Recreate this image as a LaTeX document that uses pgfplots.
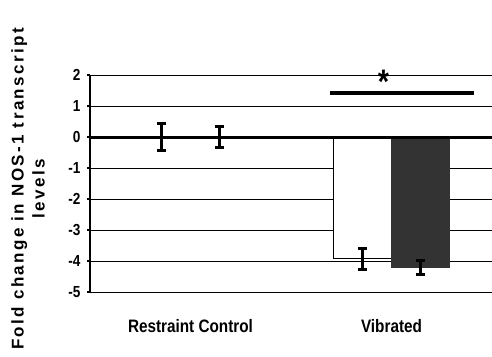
\documentclass[border=0pt]{standalone}
\usepackage{pgfplots}
\pgfplotsset{compat=1.18}
\usepackage{fontspec}
\setmainfont{Liberation Sans}
\newfontfamily\nb{Liberation Sans Bold}[FakeStretch=0.85]
\newfontfamily\ylab{Liberation Sans Bold}[LetterSpace=14]
\definecolor{darkbar}{HTML}{333333}
\begin{document}
\begin{tikzpicture}
\path[use as bounding box] (-90pt,-64pt) rectangle (402pt,292pt);
\begin{axis}[
  at={(0,0)}, anchor=south west,
  scale only axis, width=402pt, height=217pt,
  xmin=0, xmax=4, ymin=-5, ymax=2,
  ybar=0pt, bar width=58pt,
  axis x line=none,
  axis y line*=left,
  y axis line style={line width=2.5pt, -},
  ytick={-5,-4,-3,-2,-1,0,1,2},
  ymajorgrids, grid style={black, line width=0.8pt},
  tick align=outside, major tick length=3pt,
  ytick style={line width=1.5pt, black},
  yticklabel style={font=\nb\fontsize{16}{18}\selectfont, xshift=-3pt},
  /pgf/number format/assume math mode=true,
  clip=false,
]
\addplot[fill=white, draw=black, line width=0.8pt,
  error bars/.cd, y dir=both, y explicit,
  error bar style={line width=2.2pt, black},
  error mark options={rotate=90, mark size=4.5pt, line width=3pt, black}]
  coordinates {(1,0) +- (0,0.42) (3,-3.93) +- (0,0.33)};
\addplot[fill=darkbar, draw=darkbar, line width=0.8pt,
  error bars/.cd, y dir=both, y explicit,
  error bar style={line width=2.2pt, black},
  error mark options={rotate=90, mark size=4.5pt, line width=3pt, black}]
  coordinates {(1,0) +- (0,0.34) (3,-4.21) +- (0,0.24)};
\draw[line width=3pt] (axis cs:0,0) -- (axis cs:4,0);
\draw[line width=4pt] (axis cs:2.39,1.42) -- (axis cs:3.82,1.42);
\node[font=\nb\fontsize{34}{34}\selectfont] at (axis cs:2.92,1.78) {*};
\node[font=\nb\fontsize{18}{20}\selectfont] at (axis cs:1,-6.1) {Restraint Control};
\node[font=\nb\fontsize{18}{20}\selectfont] at (axis cs:3,-6.1) {Vibrated};
\end{axis}
\node[rotate=90, align=center, font=\ylab\fontsize{17}{21}\selectfont] at (-62pt,103pt) {Fold change in NOS-1 transcript\\levels};
\end{tikzpicture}
\end{document}
